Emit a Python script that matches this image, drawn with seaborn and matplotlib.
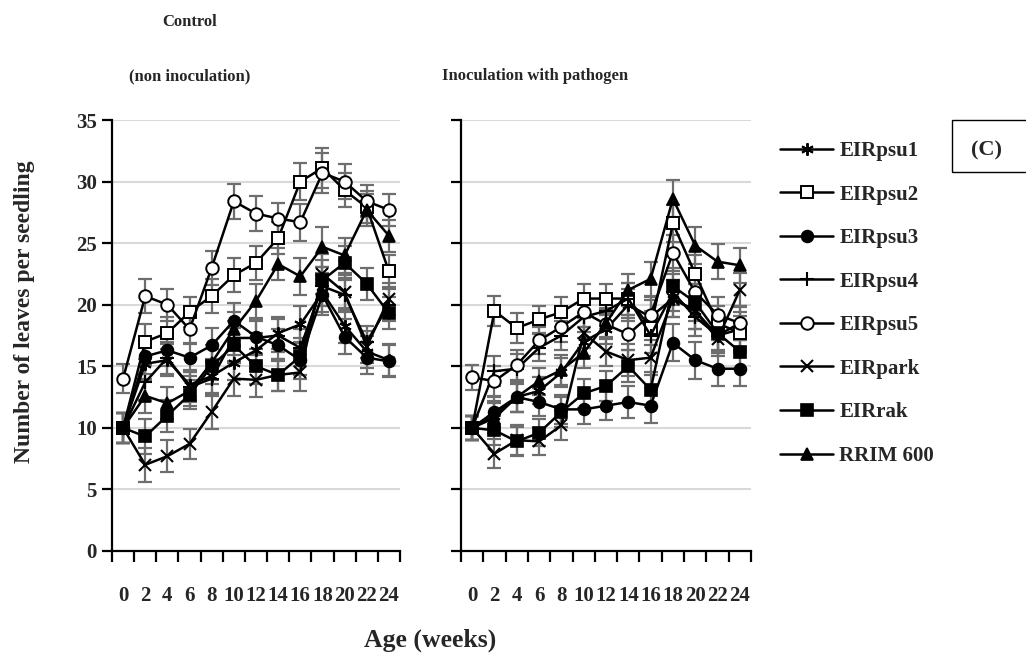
import numpy as np
import pandas as pd
import matplotlib
matplotlib.use("Agg")
import matplotlib.pyplot as plt
import seaborn as sns
from matplotlib.patches import Rectangle

# ---------------- data ----------------
weeks = [0, 2, 4, 6, 8, 10, 12, 14, 16, 18, 20, 22, 24]
series_names = ["EIRpsu1", "EIRpsu2", "EIRpsu3", "EIRpsu4", "EIRpsu5", "EIRpark", "EIRrak", "RRIM 600"]

# Control (non inoculation)
psu1_c = [10.0, 15.2, 15.5, 13.5, 14.2, 15.3, 16.3, 17.7, 18.4, 21.0, 18.3, 16.2, 15.5]
psu2_c = [10.0, 17.0, 17.7, 19.4, 20.7, 22.4, 23.4, 25.4, 30.0, 31.1, 29.3, 27.9, 22.7]
psu3_c = [10.0, 15.8, 16.3, 15.7, 16.7, 18.7, 17.4, 16.7, 15.5, 20.8, 17.4, 15.7, 15.4]
psu4_c = [10.0, 13.7, 15.7, 13.3, 14.0, 17.3, 17.3, 17.5, 16.5, 21.5, 20.8, 17.0, 20.0]
psu5_c = [14.0, 20.7, 20.0, 18.0, 23.0, 28.4, 27.4, 27.0, 26.7, 30.7, 30.0, 28.4, 27.7]
park_c = [10.0, 7.0, 7.7, 8.7, 11.3, 14.0, 13.9, 14.3, 14.5, 22.5, 21.0, 16.6, 20.5]
rak_c = [10.0, 9.3, 11.0, 12.7, 15.0, 16.7, 15.0, 14.3, 15.8, 22.0, 23.4, 21.7, 19.3]
rrim_c = [10.0, 12.6, 12.0, 13.0, 15.3, 18.0, 20.3, 23.3, 22.3, 24.7, 24.0, 27.7, 25.6]

# Inoculation with pathogen
psu1_i = [10.0, 11.0, 12.5, 13.0, 14.5, 17.0, 18.0, 20.0, 19.0, 20.5, 19.5, 17.5, 18.0]
psu2_i = [10.0, 19.5, 18.1, 18.8, 19.4, 20.5, 20.5, 20.5, 18.1, 26.6, 22.5, 18.5, 17.7]
psu3_i = [10.0, 11.3, 12.5, 12.1, 11.5, 11.5, 11.8, 12.1, 11.8, 16.9, 15.5, 14.8, 14.8]
psu4_i = [10.0, 14.6, 14.8, 16.5, 17.5, 19.0, 19.5, 20.5, 17.5, 21.0, 19.0, 17.5, 18.5]
psu5_i = [14.1, 13.8, 15.1, 17.1, 18.2, 19.4, 18.4, 17.6, 19.2, 24.2, 21.0, 19.2, 18.5]
park_i = [10.0, 7.9, 9.0, 8.9, 10.2, 17.7, 16.2, 15.5, 15.7, 20.5, 19.5, 17.2, 21.2]
rak_i = [10.0, 9.8, 8.9, 9.6, 11.3, 12.8, 13.4, 15.0, 13.1, 21.5, 20.2, 17.7, 16.2]
rrim_i = [10.0, 10.8, 12.5, 13.8, 14.7, 16.1, 18.5, 21.2, 22.1, 28.6, 24.8, 23.5, 23.2]

# error bars (approximate)
err_c = [1.2, 1.4, 1.3, 1.2, 1.4, 1.4, 1.4, 1.3, 1.5, 1.6, 1.4, 1.3, 1.3]
err_i = [1.0, 1.2, 1.2, 1.1, 1.2, 1.2, 1.2, 1.3, 1.4, 1.5, 1.5, 1.4, 1.4]

control = [psu1_c, psu2_c, psu3_c, psu4_c, psu5_c, park_c, rak_c, rrim_c]
inoc = [psu1_i, psu2_i, psu3_i, psu4_i, psu5_i, park_i, rak_i, rrim_i]

# ---------------- styles ----------------
marker_styles = [
    dict(marker=(6, 2, 0), markersize=9, markerfacecolor="black", markeredgewidth=1.4),
    dict(marker="s", markersize=8, markerfacecolor="white", markeredgewidth=1.4),
    dict(marker="o", markersize=8.5, markerfacecolor="black", markeredgewidth=1.2),
    dict(marker="+", markersize=10, markerfacecolor="black", markeredgewidth=1.5),
    dict(marker="o", markersize=9, markerfacecolor="white", markeredgewidth=1.4),
    dict(marker="x", markersize=8, markerfacecolor="black", markeredgewidth=1.5),
    dict(marker="s", markersize=8, markerfacecolor="black", markeredgewidth=1.2),
    dict(marker="^", markersize=8.5, markerfacecolor="black", markeredgewidth=1.2),
]

sns.set_theme(style="white")
plt.rcParams["font.family"] = ["Liberation Serif", "DejaVu Serif"]
plt.rcParams["font.weight"] = "bold"

W, H = 1026, 666
fig = plt.figure(figsize=(W / 100, H / 100), dpi=100)
fig.patch.set_facecolor("white")

ax1 = fig.add_axes([112 / W, (H - 551) / H, 288 / W, 431 / H])
ax2 = fig.add_axes([461 / W, (H - 551) / H, 290 / W, 431 / H])

xpos = np.arange(len(weeks))
TICK_FS = 15


def draw(ax, data, err, show_labels):
    for name, vals, st in zip(series_names, data, marker_styles):
        ax.errorbar(xpos, vals, yerr=err, fmt="none", ecolor="#6e6e6e",
                    elinewidth=1.6, capsize=5, capthick=1.6, zorder=2)
        df = pd.DataFrame({"x": xpos, "y": vals})
        sns.lineplot(data=df, x="x", y="y", ax=ax, color="black", linewidth=1.8,
                     markeredgecolor="black", label=name, zorder=3, **st)
    ax.set_xlim(-0.5, len(weeks) - 0.5)
    ax.set_ylim(0, 35)
    ax.set_yticks(np.arange(0, 36, 5))
    ax.yaxis.grid(True, color="#d9d9d9", linewidth=1.5)
    ax.xaxis.grid(False)
    ax.set_axisbelow(True)
    for s in ["top", "right"]:
        ax.spines[s].set_visible(False)
    for s in ["left", "bottom"]:
        ax.spines[s].set_color("black")
        ax.spines[s].set_linewidth(1.6)
    ax.set_xticks(xpos)
    ax.set_xticklabels([str(w) for w in weeks], fontsize=TICK_FS, fontweight="bold")
    ax.set_xticks(np.arange(-0.5, len(weeks), 1.0), minor=True)
    ax.tick_params(axis="x", which="major", length=0, pad=25)
    ax.tick_params(axis="x", which="minor", length=8, width=1.6, color="black",
                   direction="out", bottom=True)
    ax.tick_params(axis="y", length=7, width=1.6, color="black", direction="out",
                   left=True, pad=4, labelsize=TICK_FS)
    if show_labels:
        for t in ax.get_yticklabels():
            t.set_fontweight("bold")
    else:
        ax.set_yticklabels([])
    ax.set_xlabel("")
    ax.set_ylabel("")
    leg = ax.get_legend()
    if leg is not None:
        leg.remove()


draw(ax1, control, err_c, True)
draw(ax2, inoc, err_i, False)

# texts
TITLE_FS = 12
fig.text(190 / W, 1 - 22 / H, "Control", ha="center", va="center", fontsize=TITLE_FS, fontweight="bold")
fig.text(190 / W, 1 - 76 / H, "(non inoculation)", ha="center", va="center", fontsize=TITLE_FS, fontweight="bold")
fig.text(535 / W, 1 - 76 / H, "Inoculation with pathogen", ha="center", va="center", fontsize=TITLE_FS, fontweight="bold")
fig.text(25 / W, 1 - 312 / H, "Number of leaves per seedling", ha="center", va="center",
         rotation=90, fontsize=17, fontweight="bold")
fig.text(430 / W, 1 - 640 / H, "Age (weeks)", ha="center", va="center", fontsize=18.5, fontweight="bold")

# legend
handles, labels = ax1.get_legend_handles_labels()
fig.legend(handles, labels, loc="upper left", bbox_to_anchor=(780 / W, 1 - 141 / H),
           frameon=False, prop={"weight": "bold", "size": 15},
           handlelength=2.55, handletextpad=0.3, labelspacing=1.13, borderpad=0,
           borderaxespad=0, numpoints=1)

# (C) box
fig.patches.append(Rectangle((952 / W, 1 - 172 / H), 0.2, 52 / H, transform=fig.transFigure,
                             fill=False, edgecolor="black", linewidth=1.0))
fig.text(987 / W, 1 - 150 / H, "(C)", ha="center", va="center", fontsize=16, fontweight="bold")

fig.savefig("out.png", dpi=100, facecolor="white")
